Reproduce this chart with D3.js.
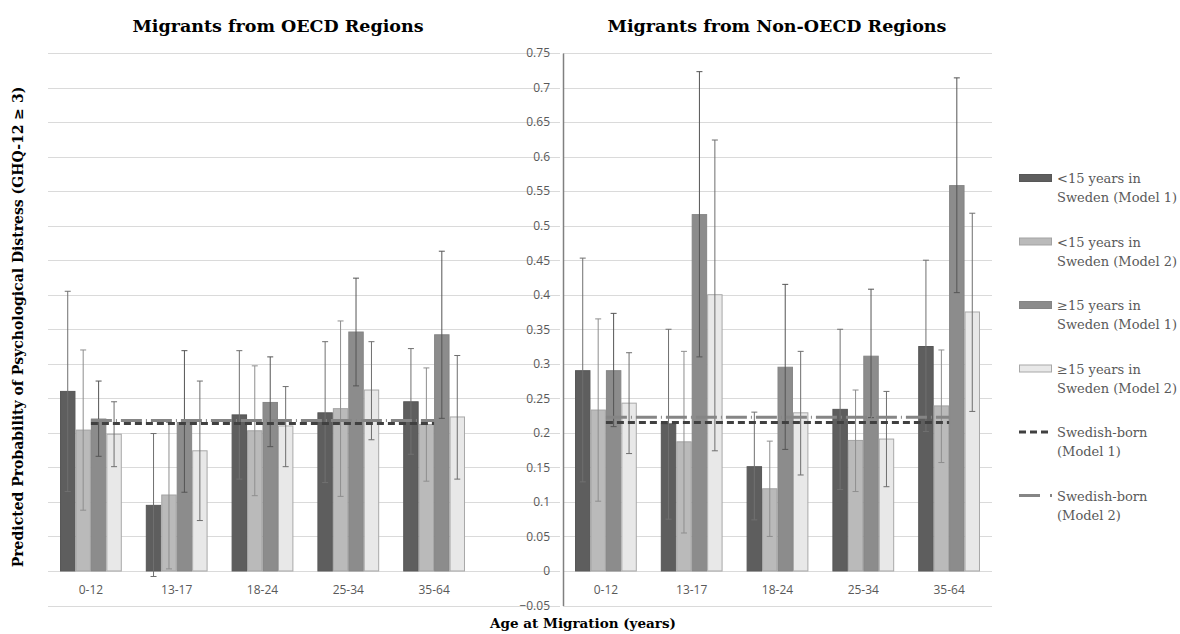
<!DOCTYPE html>
<html>
<head>
<meta charset="utf-8">
<script src="https://cdn.jsdelivr.net/npm/d3@7"></script>
<style>
  body { margin: 0; background: #fff; }
  svg { display: block; }
  .tick-label { font-family: "Open Sans", sans-serif; font-size: 12px; fill: #595959; }
  .title { font-family: "DejaVu Serif", serif; font-weight: bold; fill: #000; }
  .legend-text { font-family: "DejaVu Serif", serif; font-size: 13px; fill: #595959; }
</style>
</head>
<body>
<svg width="1180" height="634"></svg>
<script>
// age at migration groups
var categories = ["0-12", "13-17", "18-24", "25-34", "35-64"];
var seriesNames = ["lt15m1", "lt15m2", "ge15m1", "ge15m2"];
var yTicks = [-0.05, 0, 0.05, 0.1, 0.15, 0.2, 0.25, 0.3, 0.35, 0.4, 0.45, 0.5, 0.55, 0.6, 0.65, 0.7, 0.75];

// OECD regions
var oecdLt15M1 = [0.260, 0.095, 0.226, 0.229, 0.245];
var oecdLt15M2 = [0.204, 0.110, 0.203, 0.235, 0.212];
var oecdGe15M1 = [0.220, 0.215, 0.244, 0.346, 0.342];
var oecdGe15M2 = [0.198, 0.174, 0.210, 0.262, 0.223];
var oecdLt15M1Lo = [0.115, -0.008, 0.133, 0.128, 0.169];
var oecdLt15M1Hi = [0.405, 0.199, 0.319, 0.332, 0.322];
var oecdLt15M2Lo = [0.088, 0.003, 0.109, 0.108, 0.130];
var oecdLt15M2Hi = [0.320, 0.215, 0.297, 0.362, 0.294];
var oecdGe15M1Lo = [0.166, 0.114, 0.180, 0.268, 0.221];
var oecdGe15M1Hi = [0.275, 0.319, 0.310, 0.424, 0.463];
var oecdGe15M2Lo = [0.151, 0.073, 0.151, 0.190, 0.133];
var oecdGe15M2Hi = [0.245, 0.275, 0.267, 0.332, 0.312];
var oecdSwedishM1 = [0.2135, 0.2135, 0.2135, 0.2135, 0.2135];
var oecdSwedishM2 = [0.218, 0.218, 0.218, 0.218, 0.218];

// non-OECD regions
var nonLt15M1 = [0.290, 0.213, 0.151, 0.234, 0.325];
var nonLt15M2 = [0.233, 0.187, 0.119, 0.189, 0.239];
var nonGe15M1 = [0.290, 0.516, 0.295, 0.311, 0.558];
var nonGe15M2 = [0.243, 0.400, 0.229, 0.191, 0.375];
var nonLt15M1Lo = [0.129, 0.075, 0.074, 0.118, 0.202];
var nonLt15M1Hi = [0.453, 0.350, 0.230, 0.350, 0.450];
var nonLt15M2Lo = [0.101, 0.055, 0.050, 0.115, 0.157];
var nonLt15M2Hi = [0.365, 0.318, 0.188, 0.262, 0.320];
var nonGe15M1Lo = [0.209, 0.310, 0.176, 0.222, 0.403];
var nonGe15M1Hi = [0.373, 0.723, 0.415, 0.408, 0.714];
var nonGe15M2Lo = [0.170, 0.174, 0.139, 0.122, 0.231];
var nonGe15M2Hi = [0.316, 0.624, 0.318, 0.260, 0.518];
var nonSwedishM1 = [0.215, 0.215, 0.215, 0.215, 0.215];
var nonSwedishM2 = [0.2227, 0.2227, 0.2227, 0.2227, 0.2227];

var legendLabels = [
  ["<15 years in", "Sweden (Model 1)"],
  ["<15 years in", "Sweden (Model 2)"],
  ["\u226515 years in", "Sweden (Model 1)"],
  ["\u226515 years in", "Sweden (Model 2)"],
  ["Swedish-born", "(Model 1)"],
  ["Swedish-born", "(Model 2)"]
];

var barFill = ["#5e5e5e", "#bababa", "#8c8c8c", "#e8e8e8"];
var barStroke = ["#575757", "#a3a3a3", "#858585", "#a8a8a8"];
var errColor = ["#707070", "#8e8e8e", "#555555", "#6e6e6e"];

function buildRows(vals, lo, hi) {
  return categories.map(function(c, i) {
    return seriesNames.map(function(s, j) {
      return { cat: c, key: s, idx: j, value: vals[j][i], lo: lo[j][i], hi: hi[j][i] };
    });
  });
}

var panels = [
  {
    title: "Migrants from OECD Regions", titleX: 278,
    x0: 48, x1: 477, gridX1: 560, axis: false,
    rows: buildRows([oecdLt15M1, oecdLt15M2, oecdGe15M1, oecdGe15M2],
                    [oecdLt15M1Lo, oecdLt15M2Lo, oecdGe15M1Lo, oecdGe15M2Lo],
                    [oecdLt15M1Hi, oecdLt15M2Hi, oecdGe15M1Hi, oecdGe15M2Hi]),
    m1: oecdSwedishM1, m2: oecdSwedishM2
  },
  {
    title: "Migrants from Non-OECD Regions", titleX: 777,
    x0: 563, x1: 992, gridX1: 992, axis: true,
    rows: buildRows([nonLt15M1, nonLt15M2, nonGe15M1, nonGe15M2],
                    [nonLt15M1Lo, nonLt15M2Lo, nonGe15M1Lo, nonGe15M2Lo],
                    [nonLt15M1Hi, nonLt15M2Hi, nonGe15M1Hi, nonGe15M2Hi]),
    m1: nonSwedishM1, m2: nonSwedishM2
  }
];

var svg = d3.select("svg");
svg.append("rect").attr("width", 1180).attr("height", 634).attr("fill", "#fff");

var y = d3.scaleLinear().domain([-0.05, 0.75]).range([605.5, 53]);
var fmt = function(d) { return d3.format("")(+d.toFixed(2)); };

panels.forEach(function(p) {
  var g = svg.append("g");

  // gridlines
  g.selectAll(".grid")
    .data(yTicks)
    .enter().append("line")
    .attr("x1", p.x0).attr("x2", p.gridX1)
    .attr("y1", function(d) { return Math.round(y(d)) + 0.5; })
    .attr("y2", function(d) { return Math.round(y(d)) + 0.5; })
    .attr("stroke", "#dadada").attr("stroke-width", 1.2);

  var x = d3.scaleBand().domain(categories).range([p.x0, p.x1])
    .paddingInner(0.28).paddingOuter(0.14);
  var xs = d3.scaleBand().domain(seriesNames).range([0, x.bandwidth()]);

  if (p.axis) {
    var ax = g.append("g")
      .attr("transform", "translate(" + p.x0 + ",0)")
      .call(d3.axisLeft(y).tickValues(yTicks).tickSize(0).tickPadding(13).tickFormat(fmt));
    ax.select(".domain").attr("stroke", "#808080").attr("stroke-width", 1.5);
    ax.selectAll("text").attr("class", "tick-label").attr("fill", null);
  }

  // category labels
  g.selectAll(".cat")
    .data(categories)
    .enter().append("text")
    .attr("class", "tick-label")
    .attr("x", function(d) { return x(d) + x.bandwidth() / 2; })
    .attr("y", 594)
    .attr("text-anchor", "middle")
    .text(function(d) { return d; });

  var groups = g.selectAll(".grp")
    .data(p.rows)
    .enter().append("g")
    .attr("transform", function(d) { return "translate(" + x(d[0].cat) + ",0)"; });

  groups.selectAll("rect")
    .data(function(d) { return d; })
    .enter().append("rect")
    .attr("x", function(d) { return xs(d.key) + 0.5; })
    .attr("width", xs.bandwidth() - 1)
    .attr("y", function(d) { return y(d.value); })
    .attr("height", function(d) { return y(0) - y(d.value); })
    .attr("fill", function(d) { return barFill[d.idx]; })
    .attr("stroke", function(d) { return barStroke[d.idx]; })
    .attr("stroke-width", 1);

  // error bars
  var err = groups.selectAll(".err")
    .data(function(d) { return d; })
    .enter().append("g")
    .attr("stroke", function(d) { return errColor[d.idx]; })
    .attr("stroke-width", 1);
  err.append("line")
    .attr("x1", function(d) { return xs(d.key) + xs.bandwidth() / 2; })
    .attr("x2", function(d) { return xs(d.key) + xs.bandwidth() / 2; })
    .attr("y1", function(d) { return y(d.lo); })
    .attr("y2", function(d) { return y(d.hi); });
  [function(d) { return y(d.lo); }, function(d) { return y(d.hi); }].forEach(function(fy) {
    err.append("line")
      .attr("x1", function(d) { return xs(d.key) + xs.bandwidth() / 2 - 3; })
      .attr("x2", function(d) { return xs(d.key) + xs.bandwidth() / 2 + 3; })
      .attr("y1", fy).attr("y2", fy);
  });

  // Swedish-born reference lines
  var line = d3.line()
    .x(function(d, i) { return x(categories[i]) + x.bandwidth() / 2; })
    .y(function(d) { return y(d); });
  g.append("path").datum(p.m2)
    .attr("d", line).attr("fill", "none")
    .attr("stroke", "#858585").attr("stroke-width", 3)
    .attr("stroke-dasharray", "21,4,1,4");
  g.append("path").datum(p.m1)
    .attr("d", line).attr("fill", "none")
    .attr("stroke", "#404040").attr("stroke-width", 3)
    .attr("stroke-dasharray", "7,4");

  svg.append("text").attr("class", "title")
    .attr("x", p.titleX).attr("y", 32)
    .attr("text-anchor", "middle").style("font-size", "17.5px")
    .text(p.title);
});

// axis titles
svg.append("text").attr("class", "title")
  .attr("transform", "translate(23,327) rotate(-90)")
  .attr("text-anchor", "middle").style("font-size", "14px")
  .text("Predicted Probability of Psychological Distress (GHQ-12 \u2265 3)");

svg.append("text").attr("class", "title")
  .attr("x", 583).attr("y", 628)
  .attr("text-anchor", "middle").style("font-size", "13.5px")
  .text("Age at Migration (years)");

// legend
var legend = svg.append("g");
var item = legend.selectAll(".item")
  .data(legendLabels)
  .enter().append("g")
  .attr("transform", function(d, i) { return "translate(1019," + (178 + i * 63.5) + ")"; });

item.each(function(d, i) {
  var it = d3.select(this);
  if (i < 4) {
    it.append("rect").attr("x", 0.5).attr("y", -3.5).attr("width", 32).attr("height", 7)
      .attr("fill", barFill[i]).attr("stroke", barStroke[i]);
  } else if (i == 4) {
    it.append("line").attr("x1", 0).attr("x2", 33).attr("y1", 0).attr("y2", 0)
      .attr("stroke", "#404040").attr("stroke-width", 3).attr("stroke-dasharray", "7,4");
  } else {
    it.append("line").attr("x1", 0).attr("x2", 34).attr("y1", 0).attr("y2", 0)
      .attr("stroke", "#858585").attr("stroke-width", 3).attr("stroke-dasharray", "21,10,2,4");
  }
  it.append("text").attr("class", "legend-text")
    .attr("x", 38).attr("y", 5).text(d[0]);
  it.append("text").attr("class", "legend-text")
    .attr("x", 38).attr("y", 24).text(d[1]);
});
</script>
</body>
</html>
